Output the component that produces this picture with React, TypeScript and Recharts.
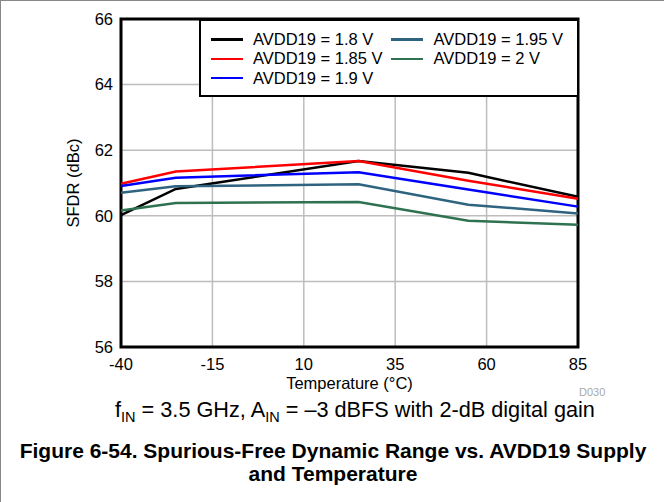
import { LineChart, Line, XAxis, YAxis, CartesianGrid, Legend, ReferenceArea } from "recharts"

const temps = [-40, -25, 25, 55, 85]
const xTicks = [-40, -15, 10, 35, 60, 85]
const yTicks = [56, 58, 60, 62, 64, 66]

const sfdr18 = [60.02, 60.82, 61.67, 61.31, 60.58]
const sfdr185 = [60.98, 61.35, 61.67, 61.07, 60.52]
const sfdr19 = [60.91, 61.16, 61.33, 60.8, 60.28]
const sfdr195 = [60.7, 60.9, 60.96, 60.34, 60.07]
const sfdr20 = [60.16, 60.39, 60.42, 59.85, 59.73]

const series = [
  { key: "v18", name: "AVDD19 = 1.8 V", color: "#000000", values: sfdr18 },
  { key: "v185", name: "AVDD19 = 1.85 V", color: "#ff0000", values: sfdr185 },
  { key: "v19", name: "AVDD19 = 1.9 V", color: "#0000ff", values: sfdr19 },
  { key: "v195", name: "AVDD19 = 1.95 V", color: "#2f6480", values: sfdr195 },
  { key: "v20", name: "AVDD19 = 2 V", color: "#2e7251", values: sfdr20 },
]

const data = temps.map((t, i) => {
  const row: Record<string, number> = { temp: t }
  series.forEach((s) => (row[s.key] = s.values[i]))
  return row
})

const FONT = "'Liberation Sans', Arial, sans-serif"

function LegendBox() {
  // two columns: first three series on the left, last two on the right
  const cols = [series.slice(0, 3), series.slice(3)]
  return (
    <div
      style={{
        width: 380,
        height: 78,
        border: "2.5px solid #000",
        background: "#fff",
        boxSizing: "border-box",
        display: "flex",
        paddingTop: 9,
        fontFamily: FONT,
        fontSize: 16.5,
        color: "#000",
      }}
    >
      {cols.map((col, ci) => (
        <div key={ci} style={{ marginLeft: ci === 0 ? 10 : 9 }}>
          {col.map((s) => (
            <div key={s.key} style={{ display: "flex", alignItems: "center", height: 19.3 }}>
              <span style={{ display: "inline-block", width: 32, height: 2.5, background: s.color, marginRight: 10 }} />
              <span style={{ whiteSpace: "nowrap" }}>{s.name}</span>
            </div>
          ))}
        </div>
      ))}
    </div>
  )
}

export default function App() {
  return (
    <div
      style={{
        position: "absolute",
        left: 0,
        top: 0,
        width: 664,
        height: 502,
        background: "#fff",
        borderTop: "1.5px solid #888",
        borderLeft: "1.5px solid #888",
        boxSizing: "border-box",
        fontFamily: FONT,
      }}
    >
      <div style={{ position: "absolute", left: 0, top: 0 }}>
        <LineChart width={664} height={400} data={data} margin={{ top: 18, right: 87, bottom: 0, left: 0 }}>
          <CartesianGrid stroke="#bdbdbd" strokeWidth={1.5} />
          <XAxis
            dataKey="temp"
            type="number"
            domain={[-40, 85]}
            ticks={xTicks}
            height={54}
            axisLine={false}
            tickLine={false}
            tickSize={0}
            tickMargin={11}
            tick={{ fill: "#000", fontSize: 16.5, fontFamily: FONT }}
            label={{ value: "Temperature (°C)", position: "center", dy: 9, fill: "#000", fontSize: 16.5, fontFamily: FONT }}
          />
          <YAxis
            type="number"
            domain={[56, 66]}
            ticks={yTicks}
            width={120}
            axisLine={false}
            tickLine={false}
            tickSize={0}
            tickMargin={8}
            tick={{ fill: "#000", fontSize: 16.5, fontFamily: FONT }}
            label={{ value: "SFDR (dBc)", angle: -90, position: "center", dx: 12, fill: "#000", fontSize: 16.5, fontFamily: FONT }}
          />
          {series.map((s) => (
            <Line
              key={s.key}
              dataKey={s.key}
              name={s.name}
              type="linear"
              stroke={s.color}
              strokeWidth={2.5}
              dot={false}
              isAnimationActive={false}
            />
          ))}
          <ReferenceArea x1={-40} x2={85} y1={56} y2={66} fill="none" stroke="#000" strokeWidth={3} ifOverflow="visible" />
          <Legend
            content={() => <LegendBox />}
            layout="horizontal"
            align="center"
            verticalAlign="middle"
            wrapperStyle={{ position: "absolute", left: 198, top: 18, width: 380 }}
          />
        </LineChart>
      </div>
      <div style={{ position: "absolute", left: 578, top: 385, fontSize: 11, color: "#a8a8a8" }}>D030</div>
      <div style={{ position: "absolute", left: 22, width: 664, top: 396, textAlign: "center", fontSize: 21.7, lineHeight: "26px", color: "#000" }}>
        f<sub style={{ fontSize: 14.5, lineHeight: 0 }}>IN</sub> = 3.5 GHz, A<sub style={{ fontSize: 14.5, lineHeight: 0 }}>IN</sub> = –3 dBFS with 2-dB digital gain
      </div>
      <div
        style={{
          position: "absolute",
          left: 0,
          width: 664,
          top: 438,
          textAlign: "center",
          fontSize: 21,
          fontWeight: "bold",
          lineHeight: "23px",
          color: "#000",
        }}
      >
        Figure 6-54. Spurious-Free Dynamic Range vs. AVDD19 Supply
        <br />
        and Temperature
      </div>
    </div>
  )
}
